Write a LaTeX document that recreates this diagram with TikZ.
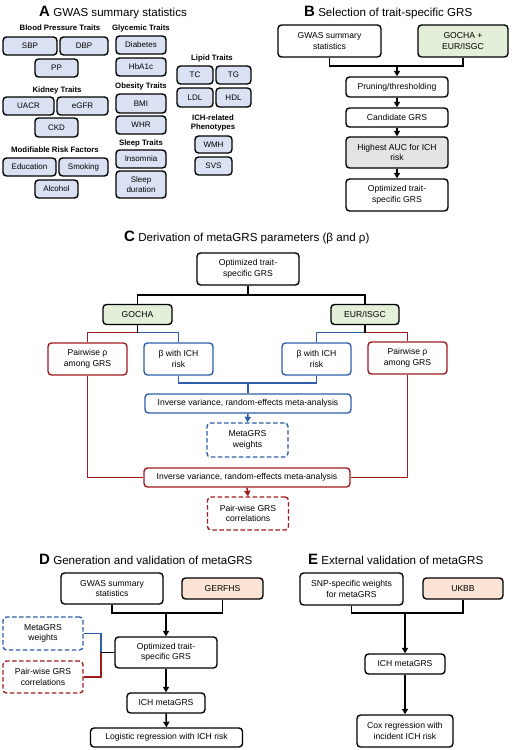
\documentclass[tikz,border=0pt]{standalone}
\usepackage{fontspec}
\setmainfont{Liberation Sans}
\usetikzlibrary{arrows.meta}
\definecolor{lblue}{HTML}{DAE1F3}
\definecolor{lgreen}{HTML}{E3EFD9}
\definecolor{lpeach}{HTML}{FBE4D6}
\definecolor{lgray}{HTML}{E4E4E4}
\definecolor{cblue}{HTML}{2E5EAA}
\definecolor{cred}{HTML}{9E1B1E}
\tikzset{
  base/.style={draw=black, line width=1.4pt, rounded corners=3.5pt, align=center, inner sep=1pt},
  boxa/.style={base, fill=lblue, font=\fontsize{8}{9.5}\selectfont},
  boxb/.style={base, fill=white, font=\fontsize{8.6}{10.5}\selectfont},
  bluebox/.style={boxb, draw=cblue},
  redbox/.style={boxb, draw=cred},
  dashbox/.style={dash pattern=on 4.5pt off 2.5pt},
  hdr/.style={font=\bfseries\fontsize{7.8}{9.5}\selectfont, align=center, inner sep=0pt},
  ttl/.style={font=\fontsize{11.6}{13}\selectfont, anchor=west, inner sep=0pt},
  con/.style={line width=1.5pt, draw=black},
  ccon/.style={line width=1.6pt},
  arr/.style={con, -{Triangle[length=5.5pt,width=6pt]}},
}
\newcommand{\panelletter}[1]{{\bfseries\fontsize{15}{15}\selectfont #1}}
\begin{document}
\begin{tikzpicture}[x=1pt,y=-1pt]
\useasboundingbox (0,0) rectangle (519,750);
% ---------------- Panel A
\node[ttl] (ta) at (39,13) {\panelletter{A} GWAS summary statistics};
\node[hdr] (h1) at (60,28) {Blood Pressure Traits};
\node[boxa, minimum width=54, minimum height=18] (sbp) at (30,46) {SBP};
\node[boxa, minimum width=48, minimum height=18] (dbp) at (84,46) {DBP};
\node[boxa, minimum width=43, minimum height=18] (pp) at (56.5,68) {PP};
\node[hdr] (h2) at (57,90) {Kidney Traits};
\node[boxa, minimum width=51, minimum height=18] (uacr) at (28.5,106) {UACR};
\node[boxa, minimum width=51, minimum height=18] (egfr) at (82.5,106) {eGFR};
\node[boxa, minimum width=43, minimum height=19] (ckd) at (56.5,127.5) {CKD};
\node[hdr] (h3) at (55,150) {Modifiable Risk Factors};
\node[boxa, minimum width=53, minimum height=18] (edu) at (29.5,167) {Education};
\node[boxa, minimum width=49, minimum height=18] (smk) at (83.5,167) {Smoking};
\node[boxa, minimum width=43, minimum height=18] (alc) at (56.5,189) {Alcohol};
\node[hdr] (h4) at (141,28) {Glycemic Traits};
\node[boxa, minimum width=50, minimum height=18] (dia) at (141,45) {Diabetes};
\node[boxa, minimum width=50, minimum height=18] (hba) at (141,67) {HbA1c};
\node[hdr] (h5) at (141,86) {Obesity Traits};
\node[boxa, minimum width=50, minimum height=19] (bmi) at (141,103.5) {BMI};
\node[boxa, minimum width=50, minimum height=18] (whr) at (141,125) {WHR};
\node[hdr] (h6) at (141,143.5) {Sleep Traits};
\node[boxa, minimum width=50, minimum height=18] (ins) at (141,159) {Insomnia};
\node[boxa, minimum width=50, minimum height=27] (slp) at (141,184.5) {Sleep\\duration};
\node[hdr] (h7) at (212,58) {Lipid Traits};
\node[boxa, minimum width=36, minimum height=18] (tc) at (195,75) {TC};
\node[boxa, minimum width=35, minimum height=18] (tg) at (233.5,75) {TG};
\node[boxa, minimum width=36, minimum height=19] (ldl) at (195,97.5) {LDL};
\node[boxa, minimum width=35, minimum height=19] (hdl) at (233.5,97.5) {HDL};
\node[hdr] (h8) at (213,123) {ICH-related\\Phenotypes};
\node[boxa, minimum width=37, minimum height=17] (wmh) at (213.5,144.5) {WMH};
\node[boxa, minimum width=37, minimum height=18] (svs) at (213.5,166) {SVS};
% ---------------- Panel B
\node[ttl] (tb) at (304,13) {\panelletter{B} Selection of trait-specific GRS};
\node[boxb, minimum width=103, minimum height=32] (gwasb) at (329.5,41) {GWAS summary\\statistics};
\node[boxb, fill=lgreen, minimum width=90, minimum height=32] (gochab) at (463,41) {GOCHA +\\EUR/ISGC};
\node[boxb, minimum width=102, minimum height=20] (prune) at (397,87) {Pruning/thresholding};
\node[boxb, minimum width=102, minimum height=19] (cand) at (397,117.5) {Candidate GRS};
\node[boxb, fill=lgray, minimum width=102, minimum height=31] (auc) at (397,152.5) {Highest AUC for ICH\\risk};
\node[boxb, minimum width=102, minimum height=32] (optb) at (397,195) {Optimized trait-\\specific GRS};
\coordinate (jb) at (397,66);
\draw[con] (gwasb.south) |- (jb) -| (gochab.south);
\draw[arr] (jb) -- (prune.north);
\draw[arr] (prune) -- (cand);
\draw[arr] (cand) -- (auc);
\draw[arr] (auc) -- (optb);
% ---------------- Panel C
\node[ttl] (tc0) at (124,237) {\panelletter{C} Derivation of metaGRS parameters (β and ρ)};
\node[boxb, minimum width=102, minimum height=32] (optc) at (248,269) {Optimized trait-\\specific GRS};
\node[boxb, fill=lgreen, minimum width=69, minimum height=20] (gocha) at (137.5,314.5) {GOCHA};
\node[boxb, fill=lgreen, minimum width=68, minimum height=20] (eur) at (365,314.5) {EUR/ISGC};
\coordinate (jc) at (248,295);
\draw[con] (optc.south) -- (jc);
\draw[con] (gocha.north) |- (jc) -| (eur.north);
\node[redbox, minimum width=79, minimum height=32] (pairl) at (87.5,359) {Pairwise ρ\\among GRS};
\node[bluebox, minimum width=69, minimum height=32] (betal) at (178.5,359) {β with ICH\\risk};
\node[bluebox, minimum width=69, minimum height=32] (betar) at (316.5,359) {β with ICH\\risk};
\node[redbox, minimum width=79, minimum height=32] (pairr) at (407.5,358) {Pairwise ρ\\among GRS};
\coordinate (jgl) at (137.5,332.5);
\coordinate (jgr) at (365,332.5);
\draw[ccon, draw=cred] (jgl) -| (pairl.north);
\draw[ccon, draw=cblue] (jgl) -| (betal.north);
\draw[ccon, draw=cblue] (jgr) -| (betar.north);
\draw[ccon, draw=cred] (jgr) -| (pairr.north);
\draw[con] (gocha.south) -- (jgl);
\draw[con] (eur.south) -- (jgr);
\node[bluebox, minimum width=206, minimum height=19] (invb) at (248,403.5) {Inverse variance, random-effects meta-analysis};
\node[bluebox, dashbox, minimum width=81, minimum height=34] (metaw) at (247.5,440) {MetaGRS\\weights};
\node[redbox, minimum width=206, minimum height=19] (invr) at (247,477.5) {Inverse variance, random-effects meta-analysis};
\node[redbox, dashbox, minimum width=81, minimum height=33] (pairc) at (248,513.5) {Pair-wise GRS\\correlations};
\coordinate (jbeta) at (248,383);
\draw[ccon, draw=cblue] (betal.south) |- (jbeta) -| (betar.south);
\draw[ccon, draw=cblue] (jbeta) -- (invb.north);
\draw[arr, draw=cblue, fill=cblue] (invb.south) -- (metaw.north);
\draw[ccon, draw=cred] (pairl.south) |- (invr.west);
\draw[ccon, draw=cred] (pairr.south) |- (invr.east);
\draw[arr, draw=cred, fill=cred] (invr.south) -- (pairc.north);
% ---------------- Panel D
\node[ttl] (td) at (39,559) {\panelletter{D} Generation and validation of metaGRS};
\node[boxb, minimum width=102, minimum height=31] (gwasd) at (112,588.5) {GWAS summary\\statistics};
\node[boxb, fill=lpeach, minimum width=81, minimum height=21] (gerf) at (222.5,588.5) {GERFHS};
\node[boxb, minimum width=102, minimum height=31] (optd) at (166,652.5) {Optimized trait-\\specific GRS};
\node[bluebox, dashbox, minimum width=80, minimum height=33] (metawd) at (43,633.5) {MetaGRS\\weights};
\node[redbox, dashbox, minimum width=80, minimum height=32] (paird) at (43,677) {Pair-wise GRS\\correlations};
\node[boxb, minimum width=78, minimum height=20] (ichd) at (166,703) {ICH metaGRS};
\node[boxb, minimum width=152, minimum height=19] (logit) at (166.5,737.5) {Logistic regression with ICH risk};
\coordinate (jd) at (166,613);
\draw[con] (gwasd.south) |- (jd) -| (gerf.south);
\draw[arr] (jd) -- (optd.north);
\coordinate (jd2) at (101,652.5);
\draw[ccon, draw=cblue] (metawd.east) -| (jd2);
\draw[ccon, draw=cred] (paird.east) -| (jd2);
\draw[con] (jd2) -- (optd.west);
\draw[arr] (optd.south) -- (ichd.north);
\draw[arr] (ichd.south) -- (logit.north);
% ---------------- Panel E
\node[ttl] (te) at (308,559) {\panelletter{E} External validation of metaGRS};
\node[boxb, minimum width=103, minimum height=32] (snp) at (351.5,589) {SNP-specific weights\\for metaGRS};
\node[boxb, fill=lpeach, minimum width=80, minimum height=21] (ukbb) at (463,588.5) {UKBB};
\node[boxb, minimum width=80, minimum height=20] (iche) at (405,664) {ICH metaGRS};
\node[boxb, minimum width=96, minimum height=32] (cox) at (405,731) {Cox regression with\\incident ICH risk};
\coordinate (je) at (405,613);
\draw[con] (snp.south) |- (je) -| (ukbb.south);
\draw[arr] (je) -- (iche.north);
\draw[arr] (iche.south) -- (cox.north);
\end{tikzpicture}
\end{document}
